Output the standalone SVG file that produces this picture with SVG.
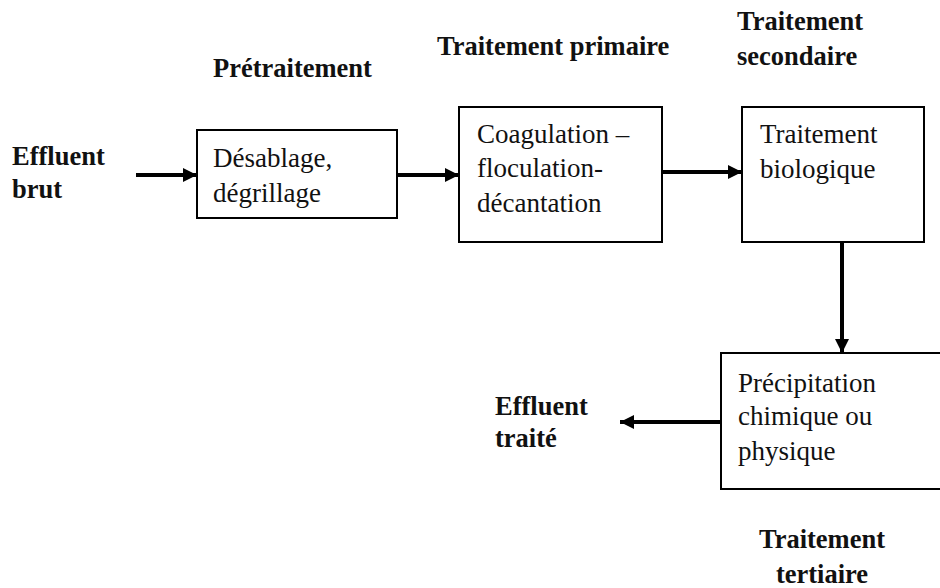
<svg xmlns="http://www.w3.org/2000/svg" width="940" height="588" viewBox="0 0 940 588">
<defs>
<marker id="ah" markerUnits="userSpaceOnUse" markerWidth="16" markerHeight="16" refX="14" refY="8" orient="auto">
<path d="M0,1 L14,8 L0,15 Z" fill="#000"/>
</marker>
<style>
.box{fill:#fff;stroke:#000;stroke-width:2}
.t{font-family:'Liberation Serif',Tinos,'DejaVu Serif',serif;font-size:27px;fill:#111}
.b{font-family:'Liberation Serif',Tinos,'DejaVu Serif',serif;font-size:26.5px;font-weight:bold;fill:#111}
.c{stroke:#000;stroke-width:4;fill:none;marker-end:url(#ah)}
</style>
</defs>
<rect width="940" height="588" fill="#fff"/>
<g id="labels">
<text class="b" x="12" y="165">Effluent</text>
<text class="b" x="12" y="198">brut</text>
<text class="b" x="213" y="77">Prétraitement</text>
<text class="b" x="437" y="55">Traitement primaire</text>
<text class="b" x="737" y="30">Traitement</text>
<text class="b" x="737" y="65">secondaire</text>
<text class="b" x="495" y="415">Effluent</text>
<text class="b" x="495" y="447">traité</text>
<text class="b" x="822" y="548" text-anchor="middle">Traitement</text>
<text class="b" x="822" y="583" text-anchor="middle">tertiaire</text>
</g>
<g id="connectors">
<line class="c" x1="136" y1="175" x2="197" y2="175"/>
<line class="c" x1="397" y1="175" x2="459" y2="175"/>
<line class="c" x1="662" y1="172" x2="742" y2="172"/>
<line class="c" x1="842" y1="242" x2="842" y2="353"/>
<line class="c" x1="721" y1="422" x2="620" y2="422"/>
</g>
<g id="n1">
<rect class="box" x="197" y="130" width="200" height="88"/>
<text class="t" x="213" y="167">Désablage,</text>
<text class="t" x="213" y="202">dégrillage</text>
</g>
<g id="n2">
<rect class="box" x="459" y="107" width="203" height="135"/>
<text class="t" x="477" y="143">Coagulation –</text>
<text class="t" x="477" y="177">floculation-</text>
<text class="t" x="477" y="212">décantation</text>
</g>
<g id="n3">
<rect class="box" x="742" y="107" width="182" height="135"/>
<text class="t" x="760" y="143">Traitement</text>
<text class="t" x="760" y="178">biologique</text>
</g>
<g id="n4">
<rect class="box" x="721" y="353" width="230" height="136"/>
<text class="t" x="738" y="392">Précipitation</text>
<text class="t" x="738" y="425">chimique ou</text>
<text class="t" x="738" y="460">physique</text>
</g>
</svg>
